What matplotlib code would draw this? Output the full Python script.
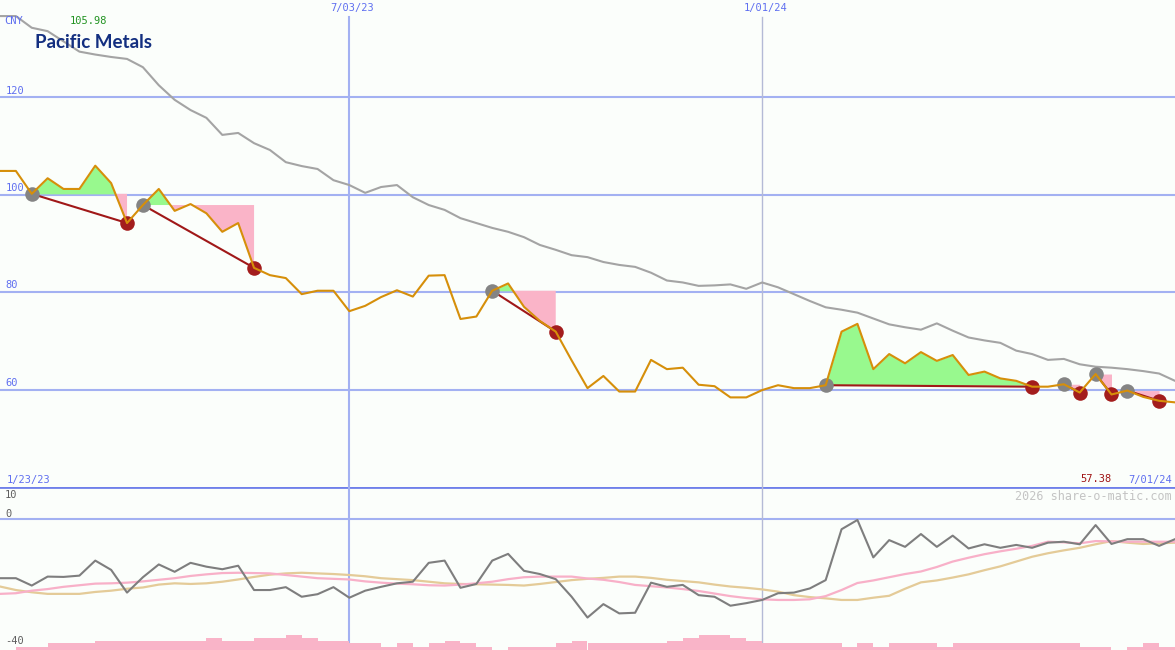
import numpy as np
import pandas as pd
import matplotlib
matplotlib.use('Agg')
import matplotlib.pyplot as plt
import matplotlib.transforms as mtransforms

# weekly closes, Pacific Metals (CNY)
dates = pd.date_range('2023-01-30', periods=75, freq='7D')

price = [104.9, 104.9, 100.2, 103.4, 101.2, 101.2, 105.98, 102.4, 94.2, 97.9,
         101.2, 96.7, 98.1, 96.2, 92.4, 94.2, 85.0, 83.5, 82.9, 79.6,
         80.3, 80.3, 76.1, 77.2, 79.0, 80.4, 79.1, 83.4, 83.5, 74.5,
         75.0, 80.3, 81.8, 77.0, 74.1, 71.9, 66.0, 60.3, 62.8, 59.6,
         59.6, 66.1, 64.2, 64.5, 61.0, 60.7, 58.4, 58.4, 59.9, 60.9,
         60.3, 60.3, 60.9, 71.9, 73.5, 64.2, 67.3, 65.4, 67.7, 65.9,
         67.1, 63.0, 63.7, 62.3, 61.8, 60.6, 60.6, 61.1, 59.4, 63.2,
         59.0, 59.8, 58.5, 57.7, 57.38]

ma_long = [136.7, 136.7, 134.3, 133.6, 131.5, 129.4, 128.8, 128.3, 127.9, 126.2,
           122.5, 119.5, 117.4, 115.8, 112.3, 112.7, 110.6, 109.2, 106.7, 105.9,
           105.3, 103.0, 102.0, 100.4, 101.6, 102.0, 99.5, 97.9, 96.9, 95.2,
           94.2, 93.2, 92.4, 91.3, 89.7, 88.7, 87.6, 87.2, 86.2, 85.6,
           85.2, 84.0, 82.4, 82.0, 81.3, 81.4, 81.6, 80.7, 82.0, 81.0,
           79.6, 78.2, 76.9, 76.4, 75.8, 74.6, 73.4, 72.8, 72.3, 73.6,
           72.1, 70.7, 70.1, 69.6, 68.0, 67.3, 66.1, 66.3, 65.2, 64.7,
           64.5, 64.2, 63.8, 63.3, 61.8]

# lower panel: oscillator and its two averages
osc = [-18.5, -18.5, -20.8, -18.0, -18.1, -17.7, -13.0, -15.9, -23.0, -18.2,
       -14.2, -16.5, -13.7, -14.9, -15.7, -14.6, -22.2, -22.2, -21.3, -24.3,
       -23.5, -21.3, -24.6, -22.4, -21.2, -20.1, -19.6, -13.7, -13.0, -21.5,
       -20.3, -13.0, -10.9, -16.2, -17.2, -18.8, -24.3, -30.8, -26.6, -29.5,
       -29.3, -19.9, -21.2, -20.6, -23.8, -24.3, -27.1, -26.3, -25.3, -23.2,
       -23.0, -21.7, -19.1, -3.2, -0.3, -12.0, -6.6, -8.7, -4.7, -8.7,
       -5.2, -9.2, -7.9, -9.0, -8.1, -9.0, -7.4, -7.1, -7.9, -1.9,
       -7.8, -6.3, -6.3, -8.4, -6.3]

osc_fast = [-23.4, -23.2, -22.4, -21.9, -21.2, -20.7, -20.2, -20.1, -19.9, -19.5,
            -19.0, -18.5, -17.8, -17.3, -16.9, -16.8, -16.9, -17.0, -17.5, -18.0,
            -18.5, -18.7, -18.9, -19.5, -19.9, -20.2, -20.4, -20.7, -20.8, -20.5,
            -20.1, -19.6, -18.8, -18.2, -18.0, -18.0, -18.0, -18.6, -19.0, -19.7,
            -20.6, -21.0, -21.4, -21.9, -22.5, -23.3, -24.1, -24.7, -25.1, -25.3,
            -25.3, -25.1, -24.1, -22.2, -20.0, -19.2, -18.2, -17.2, -16.4, -15.0,
            -13.3, -12.1, -11.0, -10.1, -9.3, -8.4, -7.1, -7.3, -7.6, -6.9,
            -7.0, -7.1, -7.1, -7.1, -7.1]

osc_slow = [-21.1, -22.2, -22.9, -23.4, -23.4, -23.4, -22.8, -22.4, -21.8, -21.4,
            -20.5, -20.1, -20.3, -20.1, -19.6, -18.9, -18.1, -17.4, -17.0, -16.8,
            -17.0, -17.2, -17.5, -17.9, -18.5, -18.8, -19.1, -19.6, -20.1, -20.3,
            -20.4, -20.5, -20.6, -20.8, -20.3, -19.7, -19.1, -18.7, -18.4, -18.0,
            -18.0, -18.4, -19.0, -19.4, -19.8, -20.5, -21.1, -21.5, -22.0, -22.7,
            -23.8, -24.4, -24.8, -25.3, -25.3, -24.6, -24.0, -21.8, -19.8, -19.2,
            -18.3, -17.3, -16.0, -14.8, -13.3, -11.8, -10.7, -9.8, -9.0, -7.9,
            -6.9, -7.4, -7.8, -7.6, -7.4]

volume = [0, 3.3, 3.3, 6.7, 6.7, 6.7, 9.3, 9.3, 9.3, 9.3,
          9.3, 9.3, 9.3, 12.3, 9.3, 9.3, 12.3, 12.3, 15, 12.3,
          9.3, 9.3, 6.7, 6.7, 3.3, 6.7, 3.3, 6.7, 9.3, 6.7,
          3.3, 0.5, 3.3, 3.3, 3.3, 6.7, 9.3, 6.7, 6.7, 6.7,
          6.7, 6.7, 9.3, 12.3, 15, 15, 12.3, 9.3, 6.7, 6.7,
          6.7, 6.7, 6.7, 3.3, 6.7, 3.3, 6.7, 6.7, 6.7, 3.3,
          6.7, 6.7, 6.7, 6.7, 6.7, 6.7, 6.7, 6.7, 3.3, 3.3,
          0, 3.3, 6.7, 3.3, 0]

# trades: entry index -> exit index
buys = [2, 9, 31, 52, 67, 69, 71]
sells = [8, 16, 35, 65, 68, 70, 73]

date_lines = ['2023-07-03', '2024-01-01']

bg = '#fbfefb'
grid_blue = '#a3b1f2'
label_blue = '#5f6ff0'
mono = 'DejaVu Sans Mono'

W, H = 1175, 650
fig = plt.figure(figsize=(W / 100, H / 100), dpi=100)
fig.patch.set_facecolor(bg)
ax = fig.add_axes([0, 163 / H, 1, 487 / H])
low = fig.add_axes([0, 0, 1, 163 / H])
for a in (ax, low):
    a.set_axis_off()
    a.set_xlim(dates[0], dates[-1])

price_s = pd.Series(price, index=dates)

# ---- main panel ----
ax.set_ylim(40, 140)
ylab_tr = mtransforms.blended_transform_factory(ax.transAxes, ax.transData)
for lvl in [60, 80, 100, 120]:
    ax.axhline(lvl, color=grid_blue, lw=1.5, zorder=1)
    ax.text(0.005, lvl + 0.35, str(lvl), transform=ylab_tr,
            color=label_blue, fontsize=7.5, family=mono, va='bottom', ha='left')
ax.axvline(pd.Timestamp(date_lines[0]), ymin=0, ymax=1 - 17 / 487, color=grid_blue, lw=1.5, zorder=1)
ax.axvline(pd.Timestamp(date_lines[1]), ymin=0, ymax=1 - 17 / 487, color='#b4bad6', lw=1, zorder=1)

ax.plot(dates, ma_long, color='#a4a4a4', lw=1.5, zorder=2)

for b, s in zip(buys, sells):
    seg = price_s.iloc[b:s + 1]
    lvl = price[b]
    ax.fill_between(seg.index, seg.values, lvl, where=seg.values >= lvl, interpolate=True,
                    color='#98f98e', lw=0, zorder=2)
    ax.fill_between(seg.index, seg.values, lvl, where=seg.values <= lvl, interpolate=True,
                    color='#fab4c8', lw=0, zorder=2)
    ax.plot([dates[b], dates[s]], [price[b], price[s]], color='#a01818', lw=1.5, zorder=3)

ax.scatter(dates[buys], [price[i] for i in buys], s=110, color='#848484', zorder=4, lw=0)
ax.scatter(dates[sells], [price[i] for i in sells], s=110, color='#a31d1d', zorder=4, lw=0)
ax.plot(dates, price, color='#d68f0a', lw=1.5, zorder=5)

# ---- lower panel ----
low.set_ylim(-40.94, 10)
low.axhline(10, color='#6f80ea', lw=2, zorder=1)
low.axhline(0, color=grid_blue, lw=1.5, zorder=1)
low.axvline(pd.Timestamp(date_lines[0]), color=grid_blue, lw=1.5, zorder=1)
low.axvline(pd.Timestamp(date_lines[1]), color='#b4bad6', lw=1, zorder=1)

vol_ax = low.twinx()
vol_ax.set_axis_off()
vol_ax.set_ylim(0, 163)
vol_ax.bar(dates, volume, width=7, align='edge', color='#f9b4c8', lw=0, zorder=1)

low.plot(dates, osc_slow, color='#e4cb98', lw=1.6, zorder=2)
low.plot(dates, osc_fast, color='#f8b0c8', lw=1.6, zorder=3)
low.plot(dates, osc, color='#7e7e7e', lw=1.5, zorder=4)


def ftext(x, y, s, **kw):
    fig.text(x / W, 1 - y / H, s, **kw)


ftext(4, 21.5, 'CNY', color=label_blue, fontsize=7.5, family=mono, va='center')
ftext(70, 21, '105.98', color='#219321', fontsize=7.5, family=mono, va='center')
ftext(35, 43, 'Pacific Metals', color='#132f80', fontsize=13.5, fontweight='bold',
      family=['Liberation Sans Narrow', 'Lato', 'DejaVu Sans'], va='center')
ftext(352, 8.5, '7/03/23', color=label_blue, fontsize=7.5, family=mono, va='center', ha='center')
ftext(766, 8.5, '1/01/24', color=label_blue, fontsize=7.5, family=mono, va='center', ha='center')
ftext(7, 479.5, '1/23/23', color=label_blue, fontsize=7.5, family=mono, va='center')
ftext(1112, 479.5, '57.38', color='#a01414', fontsize=7.5, family=mono, va='center', ha='right')
ftext(1172, 479.5, '7/01/24', color=label_blue, fontsize=7.5, family=mono, va='center', ha='right')
ftext(1172, 496, '2026 share-o-matic.com', color='#c4c4c4', fontsize=8.5, family=mono,
      va='center', ha='right')
ftext(5, 495.5, '10', color='#5e5e5e', fontsize=7.5, family=mono, va='center')
ftext(5, 514, '0', color='#5e5e5e', fontsize=7.5, family=mono, va='center')
ftext(5, 641.5, '-40', color='#5e5e5e', fontsize=7.5, family=mono, va='center')

fig.savefig('out.png', dpi=100, facecolor=bg)
